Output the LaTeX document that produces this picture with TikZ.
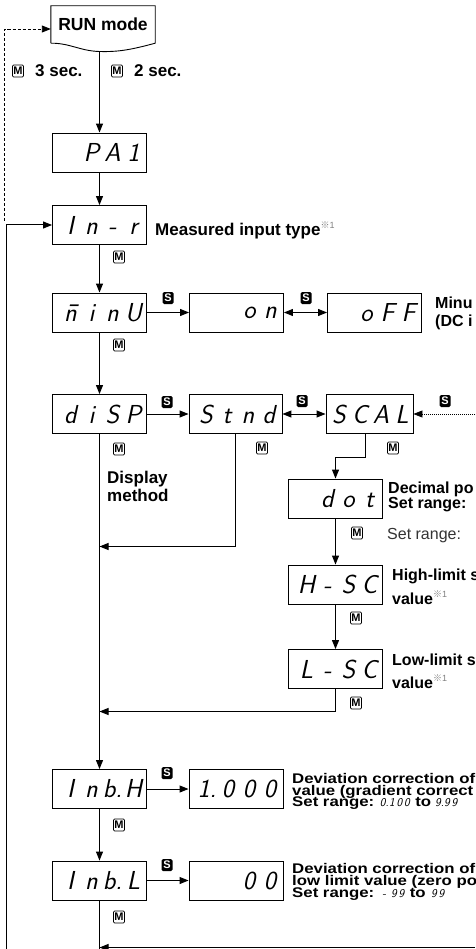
\documentclass[tikz,border=0pt]{standalone}
\usepackage{fontspec}
\setmainfont{Liberation Sans}
\newfontfamily\cjkf{Noto Sans CJK JP}
\newfontfamily\segf{lmsans17-oblique.otf}
\newfontfamily\widef[FakeStretch=1.2]{Liberation Sans}
\usetikzlibrary{arrows.meta}
\newcommand\fsz[1]{\fontsize{#1pt}{#1pt}\selectfont}
\newcommand\sg[1]{\makebox[21pt][c]{#1}}
\newcommand\sgs[1]{\makebox[7.5pt][c]{#1}}
\newcommand\smallseg[1]{{\normalfont\segf\fsz{12}#1}}
\newcommand\refm{\raisebox{7pt}{\color{black!50}\normalfont\fsz{9}{\cjkf ※}1}}
\begin{document}
\begin{tikzpicture}[x=1pt,y=-1pt,
  ln/.style={line width=1pt},
  arr/.style={line width=1pt,-{Triangle[length=9pt,width=7pt]}},
  darr/.style={line width=1pt,{Triangle[length=9pt,width=7pt]}-{Triangle[length=9pt,width=7pt]}},
  disp/.style={draw,line width=0.9pt,minimum height=39pt,inner xsep=2.5pt,inner ysep=0pt,align=right,font=\segf\fsz{26}},
  w94/.style={disp,text width=89pt},
  w93/.style={disp,text width=88pt},
  w87/.style={disp,text width=82pt},
  keym/.style={draw,line width=0.7pt,rounded corners=1.2pt,minimum width=11pt,minimum height=12pt,inner sep=0pt,font=\bfseries\fsz{11}},
  keys/.style={fill=black,rounded corners=1.5pt,minimum width=11pt,minimum height=12pt,inner sep=0pt,text=white,font=\bfseries\fsz{11}},
  lbl/.style={anchor=base west,inner sep=0pt,font=\bfseries\fsz{17}},
  lbm/.style={anchor=base west,inner sep=0pt,font=\bfseries\fsz{16}},
  desc/.style={anchor=base west,inner sep=0pt,font=\widef\bfseries\fsz{14}}
]
\useasboundingbox (0,0) rectangle (475,949);
\clip (0,0) rectangle (475,949);

% RUN mode
\node[minimum width=104pt,minimum height=37pt,inner sep=0pt,font=\bfseries\fsz{17.5}] (run) at (103,24.5) {RUN mode};
\draw[line width=0.9pt] (run.south west) -- (run.north west) -- (run.north east) -- (run.south east)
  .. controls (130,50) and (118,52) .. (99.5,51.5) .. controls (80,51) and (70,43) .. (run.south west);
\coordinate (runb) at (99.5,51.5);

% main column
\node[w94] (pa1)  at (99.5,152.5) {\sg{P}\sg{A}\sg{1}};
\node[w94] (inr)  at (99.5,225)   {\sg{I}\sg{n}\sg{-}\sg{r}};
\node[w94] (minu) at (99.5,312.5) {\sg{\=n}\sg{i}\sg{n}\sg{U}};
\node[w94] (disp) at (99.5,414)   {\sg{d}\sg{i}\sg{S}\sg{P}};
\node[w94] (inbh) at (99.5,789)   {\sg{I}\sg{n}\sg{b.}\sg{H}};
\node[w94] (inbl) at (99.5,880.5) {\sg{I}\sg{n}\sg{b.}\sg{L}};

% right boxes
\node[w94] (on)   at (236.5,312.5) {\sg{o}\sg{n}};
\node[w94] (off)  at (374.5,312.5) {\sg{o}\sg{F}\sg{F}};
\node[w93] (stnd) at (235.5,414)   {\sg{S}\sg{t}\sg{n}\sg{d}};
\node[w87] (scal) at (369.5,414)   {\sg{S}\sg{C}\sg{A}\sg{L}};
\node[w94] (dot)  at (335.5,498.5) {\sg{d}\sg{o}\sg{t}};
\node[w94] (hsc)  at (335.5,584.5) {\sg{H}\sg{-}\sg{S}\sg{C}};
\node[w94] (lsc)  at (335.5,669)   {\sg{L}\sg{-}\sg{S}\sg{C}};
\node[w94] (val1) at (236,789)     {\sg{1.}\sg{0}\sg{0}\sg{0}};
\node[w94] (val2) at (236,880.5)   {\sg{0}\sg{0}};

% coordinates
\coordinate (dl) at (4.5,221);
\coordinate (lb) at (6,949);
\coordinate (bend) at (99.5,949);
\coordinate (botR) at (475,947.5);
\coordinate (dotR) at (475,414);
\coordinate (j1) at (99.5,546.5);
\coordinate (j2) at (99.5,711.5);
\coordinate (k1) at (365,457.5);

% connectors
\draw[arr] (runb) -- (pa1);
\draw[arr] (pa1) -- (inr);
\draw[arr] (inr) -- (minu);
\draw[arr] (minu) -- (disp);
\draw[arr] (disp) -- (inbh);
\draw[arr] (inbh) -- (inbl);
\draw[ln] (inbl) -- (bend);
\draw[arr] (botR) -- (botR -| inbl.south);
\draw[arr] (lb) |- (inr.west);
\draw[line width=0.9pt,dash pattern=on 3pt off 2pt,-{Triangle[length=9pt,width=7pt]}] (dl) |- ([yshift=-4.5pt]run.west);
\draw[arr] (minu) -- (on);
\draw[darr] (on) -- (off);
\draw[arr] (disp) -- (stnd);
\draw[darr] (stnd) -- (scal);
\draw[line width=0.8pt,dash pattern=on 1pt off 1pt,-{Triangle[length=9pt,width=7pt]}] (dotR) -- (scal);
\draw[arr] (stnd.south) |- (j1);
\draw[ln] ([xshift=-4.5pt]scal.south) -- (k1);
\draw[arr] (k1) -| (dot);
\draw[arr] (dot) -- (hsc);
\draw[arr] (hsc) -- (lsc);
\draw[arr] (lsc.south) |- (j2);
\draw[arr] (inbh) -- (val1);
\draw[arr] (inbl) -- (val2);

% keys
\node[keym] (m1) at (18,71) {M};
\node[keym] (m2) at (117,71) {M};
\node[keym] (m3) at (119,257) {M};
\node[keym] (m4) at (119,345) {M};
\node[keym] (m5) at (119,449) {M};
\node[keym] (m6) at (262,448) {M};
\node[keym] (m7) at (393,448) {M};
\node[keym] (m8) at (357,533) {M};
\node[keym] (m9) at (356,618) {M};
\node[keym] (m10) at (356,703) {M};
\node[keym] (m11) at (119,825) {M};
\node[keym] (m12) at (119,917) {M};
\node[keys] (s1) at (168,298) {S};
\node[keys] (s2) at (306,298) {S};
\node[keys] (s3) at (167,402) {S};
\node[keys] (s4) at (302,401) {S};
\node[keys] (s5) at (445,401) {S};
\node[keys] (s6) at (167,773) {S};
\node[keys] (s7) at (167,865) {S};

% labels
\node[lbl] (t3s) at (35,77) {3 sec.};
\node[lbl] (t2s) at (134,77) {2 sec.};
\node[lbl] (tmeas) at (155,236) {Measured input type\refm};
\node[lbm] (tmin1) at (435,308) {Minu};
\node[lbm] (tmin2) at (435,326) {(DC i};
\node[lbl] (tdisp1) at (107,483) {Display};
\node[lbl] (tdisp2) at (107,501) {method};
\node[lbm] (tdec1) at (388,493) {Decimal po};
\node[lbm] (tdec2) at (388,508) {Set range:};
\node[anchor=base west,inner sep=0pt,font=\fsz{16},text=black!80] (tdec3) at (387,539) {Set range:};
\node[lbm] (thi1) at (392,580) {High-limit s};
\node[lbm] (thi2) at (392,604) {value\refm};
\node[lbm] (tlo1) at (392,665) {Low-limit s};
\node[lbm] (tlo2) at (392,688) {value\refm};
\node[desc] (d11) at (292,783) {Deviation correction of};
\node[desc] (d12) at (292,795) {value (gradient correct};
\node[desc] (d13) at (292,806) {Set range: \smallseg{\sgs{0.}\sgs{1}\sgs{0}\sgs{0}} to \smallseg{\sgs{9.}\sgs{9}\sgs{9}}};
\node[desc] (d21) at (292,873) {Deviation correction of};
\node[desc] (d22) at (292,885) {low limit value (zero po};
\node[desc] (d23) at (292,897) {Set range: \smallseg{\sgs{-}\,\sgs{9}\sgs{9}} to \smallseg{\sgs{9}\sgs{9}}};
\end{tikzpicture}
\end{document}
